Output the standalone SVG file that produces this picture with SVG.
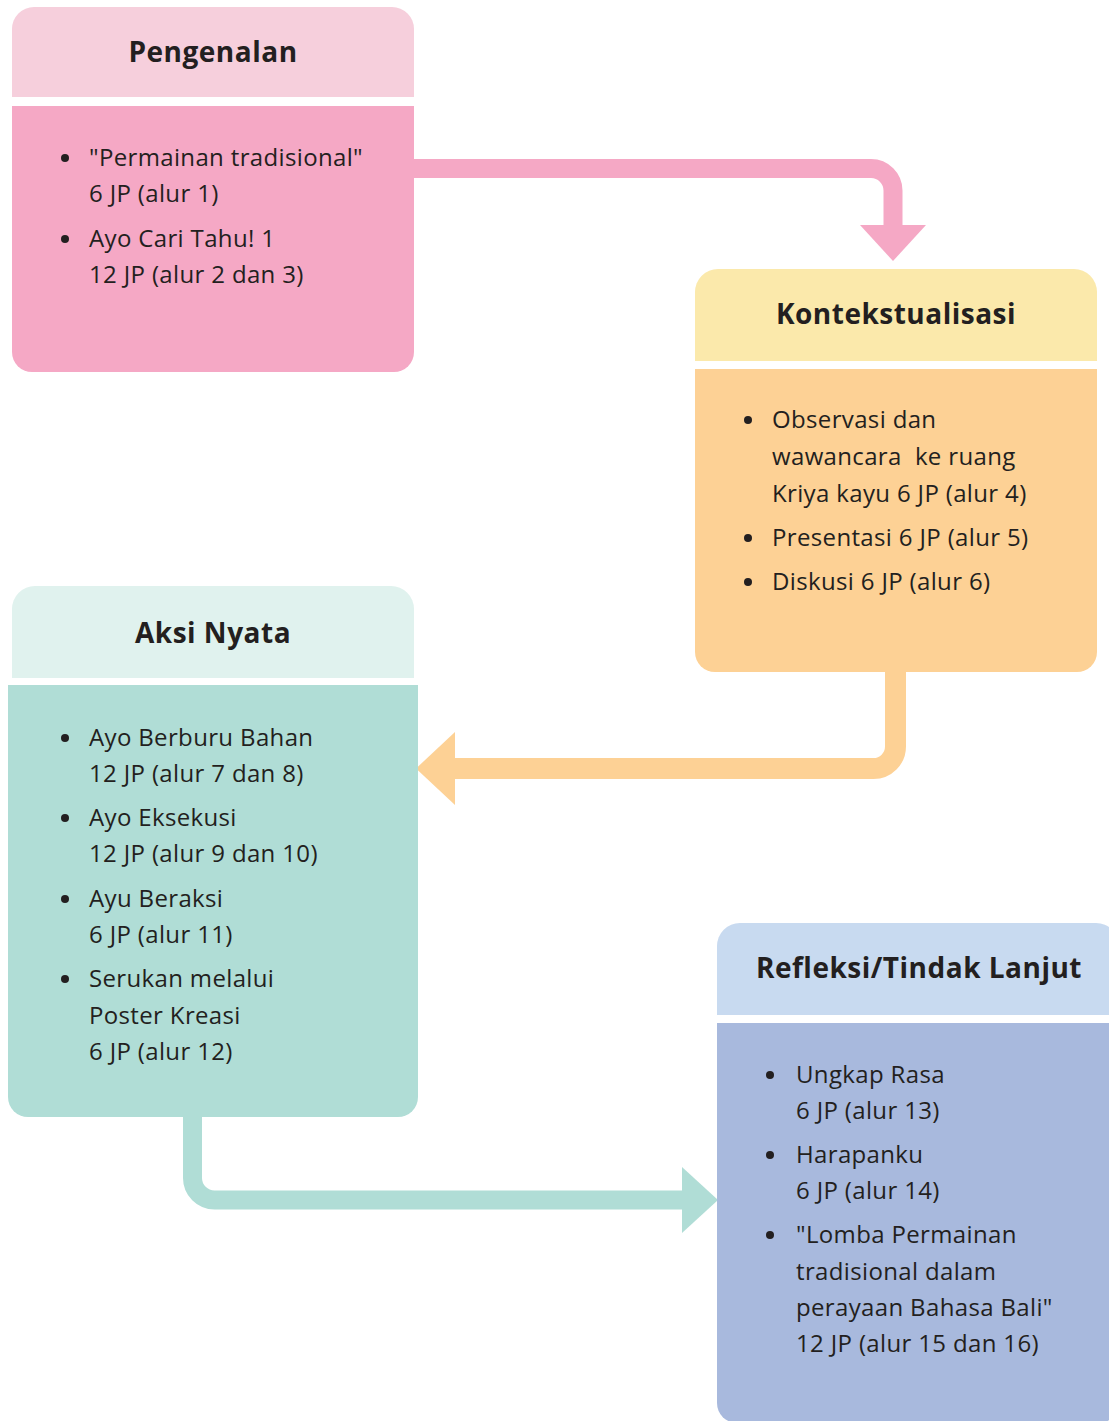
<svg xmlns="http://www.w3.org/2000/svg" width="1109" height="1421" viewBox="0 0 1109 1421">
<style>
.t{font-family:"Open Sans","Noto Sans","DejaVu Sans",sans-serif;font-size:24px;letter-spacing:0.35px;fill:#231f20}
.h{font-family:"Open Sans","Noto Sans","DejaVu Sans",sans-serif;font-size:28px;font-weight:bold;letter-spacing:0.5px;fill:#231f20;text-anchor:middle}
.b{fill:#231f20}
.c{fill:none}
</style>
<rect width="1109" height="1421" fill="#ffffff"/>
<g id="connectors">
<path class="c" d="M 414 168.5 H 871 A 22 22 0 0 1 893 190.5 V 226" stroke="#f5a8c5" stroke-width="19"/>
<polygon points="860,225 926,225 893,261" fill="#f5a8c5"/>
<path class="c" d="M 895.5 671 V 746.5 A 22 22 0 0 1 873.5 768.5 H 454" stroke="#fdd195" stroke-width="21"/>
<polygon points="455,732 455,805 416,768.5" fill="#fdd195"/>
<path class="c" d="M 192.5 1116 V 1178 A 22 22 0 0 0 214.5 1200 H 683" stroke="#b0ddd6" stroke-width="19"/>
<polygon points="682,1167 682,1233 718,1200" fill="#b0ddd6"/>
</g>
<g id="pengenalan">
<path d="M 12 97 V 29 A 22 22 0 0 1 34 7 H 392 A 22 22 0 0 1 414 29 V 97 Z" fill="#f6cfdc"/>
<path d="M 12 106 H 414 V 352 A 20 20 0 0 1 394 372 H 32 A 20 20 0 0 1 12 352 Z" fill="#f5a8c5"/>
<text class="h" x="213" y="62">Pengenalan</text>
<circle class="b" cx="65" cy="158" r="4"/>
<circle class="b" cx="65" cy="239" r="4"/>
<text class="t" x="89" y="166">"Permainan tradisional"</text>
<text class="t" x="89" y="202">6 JP (alur 1)</text>
<text class="t" x="89" y="247">Ayo Cari Tahu! 1</text>
<text class="t" x="89" y="283">12 JP (alur 2 dan 3)</text>
</g>
<g id="kontekstualisasi">
<path d="M 695 361 V 292 A 23 23 0 0 1 718 269 H 1074 A 23 23 0 0 1 1097 292 V 361 Z" fill="#fbe9ab"/>
<path d="M 695 369 H 1097 V 652 A 20 20 0 0 1 1077 672 H 715 A 20 20 0 0 1 695 652 Z" fill="#fdd195"/>
<text class="h" x="896" y="324">Kontekstualisasi</text>
<circle class="b" cx="748" cy="420" r="4"/>
<circle class="b" cx="748" cy="538" r="4"/>
<circle class="b" cx="748" cy="582" r="4"/>
<text class="t" x="772" y="428">Observasi dan</text>
<text class="t" x="772" y="465" xml:space="preserve">wawancara  ke ruang</text>
<text class="t" x="772" y="502">Kriya kayu 6 JP (alur 4)</text>
<text class="t" x="772" y="546">Presentasi 6 JP (alur 5)</text>
<text class="t" x="772" y="590">Diskusi 6 JP (alur 6)</text>
</g>
<g id="aksi-nyata">
<path d="M 12 678 V 609 A 23 23 0 0 1 35 586 H 391 A 23 23 0 0 1 414 609 V 678 Z" fill="#e0f2ee"/>
<path d="M 8 685 H 418 V 1097 A 20 20 0 0 1 398 1117 H 28 A 20 20 0 0 1 8 1097 Z" fill="#b0ddd6"/>
<text class="h" x="213" y="643">Aksi Nyata</text>
<circle class="b" cx="65" cy="738" r="4"/>
<circle class="b" cx="65" cy="818" r="4"/>
<circle class="b" cx="65" cy="899" r="4"/>
<circle class="b" cx="65" cy="979" r="4"/>
<text class="t" x="89" y="746">Ayo Berburu Bahan</text>
<text class="t" x="89" y="782">12 JP (alur 7 dan 8)</text>
<text class="t" x="89" y="826">Ayo Eksekusi</text>
<text class="t" x="89" y="862">12 JP (alur 9 dan 10)</text>
<text class="t" x="89" y="907">Ayu Beraksi</text>
<text class="t" x="89" y="943">6 JP (alur 11)</text>
<text class="t" x="89" y="987">Serukan melalui</text>
<text class="t" x="89" y="1024">Poster Kreasi</text>
<text class="t" x="89" y="1060">6 JP (alur 12)</text>
</g>
<g id="refleksi">
<path d="M 717 1015 V 946 A 23 23 0 0 1 740 923 H 1096 A 23 23 0 0 1 1119 946 V 1015 Z" fill="#c8daf0"/>
<path d="M 717 1023 H 1119 V 1403 A 20 20 0 0 1 1099 1423 H 737 A 20 20 0 0 1 717 1403 Z" fill="#a8b9dd"/>
<text class="h" x="919" y="978">Refleksi/Tindak Lanjut</text>
<circle class="b" cx="770" cy="1075" r="4"/>
<circle class="b" cx="770" cy="1155" r="4"/>
<circle class="b" cx="770" cy="1235" r="4"/>
<text class="t" x="796" y="1083">Ungkap Rasa</text>
<text class="t" x="796" y="1119">6 JP (alur 13)</text>
<text class="t" x="796" y="1163">Harapanku</text>
<text class="t" x="796" y="1199">6 JP (alur 14)</text>
<text class="t" x="796" y="1243">"Lomba Permainan</text>
<text class="t" x="796" y="1280">tradisional dalam</text>
<text class="t" x="796" y="1316">perayaan Bahasa Bali"</text>
<text class="t" x="796" y="1352">12 JP (alur 15 dan 16)</text>
</g>
</svg>
